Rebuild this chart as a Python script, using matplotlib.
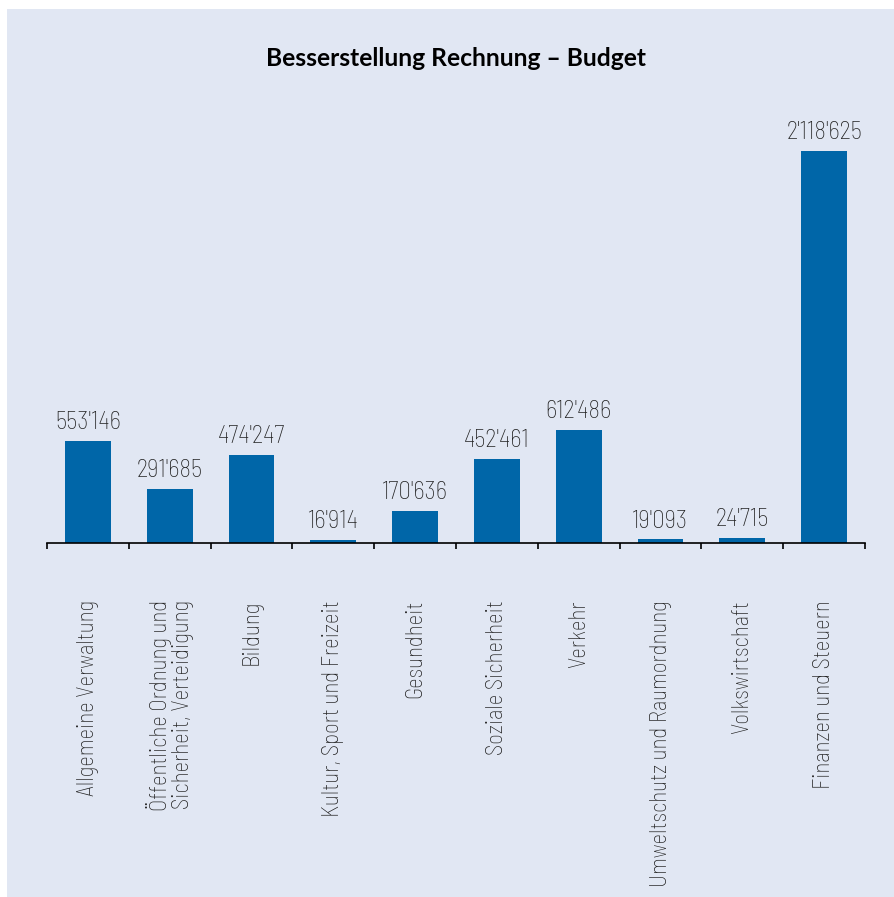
import matplotlib.pyplot as plt
from matplotlib import font_manager
from matplotlib.patches import Rectangle

# Data
categories = [
    "Allgemeine Verwaltung",
    "Öffentliche Ordnung und\nSicherheit, Verteidigung",
    "Bildung",
    "Kultur, Sport und Freizeit",
    "Gesundheit",
    "Soziale Sicherheit",
    "Verkehr",
    "Umweltschutz und Raumordnung",
    "Volkswirtschaft",
    "Finanzen und Steuern",
]
values = [553146, 291685, 474247, 16914, 170636, 452461, 612486, 19093, 24715, 2118625]
title = "Besserstellung Rechnung – Budget"

bg = "#e1e7f3"
bar_color = "#0066a8"
text_color = "#222222"

# narrow light font if available, else condensed DejaVu
installed = {f.name for f in font_manager.fontManager.ttflist}
if "Barlow Semi Condensed" in installed:
    fam = dict(family=["Barlow Semi Condensed", "DejaVu Sans"], fontweight="light")
    value_size, cat_size = 18, 16.5
elif "Barlow Condensed" in installed:
    fam = dict(family=["Barlow Condensed", "DejaVu Sans"], fontweight="light")
    value_size, cat_size = 20, 18
else:
    fam = dict(family=["DejaVu Sans"], fontstretch="condensed")
    value_size, cat_size = 13, 12


def fmt(v):
    return f"{v:,}".replace(",", "'")


#----------------------------------------------------------------------------------------------------------------------#
# Plotting
W, H = 894, 897
fig = plt.figure(figsize=(W / 100, H / 100), dpi=100, facecolor="white")
fig.patches.append(Rectangle((7 / W, 0), 1 - 7 / W, (H - 9) / H,
                             transform=fig.transFigure, facecolor=bg, edgecolor="none", zorder=-10))

ax = fig.add_axes([47 / W, (H - 543) / H, 818 / W, 443 / H])
ax.set_facecolor("none")

x = range(len(categories))
bars = ax.bar(x, values, width=0.56, color=bar_color, zorder=2)
ax.set_xlim(-0.5, len(categories) - 0.5)
ax.set_ylim(0, 2118625 * 443 / 392)

for b, v in zip(bars, values):
    ax.annotate(fmt(v), (b.get_x() + b.get_width() / 2, b.get_height()),
                xytext=(0, 5), textcoords="offset points", ha="center", va="bottom",
                color=text_color, fontsize=value_size, **fam)

# axis line and boundary ticks
for s in ["top", "right", "left"]:
    ax.spines[s].set_visible(False)
ax.spines["bottom"].set_linewidth(1.2)
ax.set_yticks([])
ax.set_xticks([i - 0.5 for i in range(len(categories) + 1)])
ax.set_xticklabels([])
ax.tick_params(axis="x", direction="out", length=4, width=1.2)

for i, c in enumerate(categories):
    ax.text(i, -57 / 443 * ax.get_ylim()[1], c, rotation=90, ha="center", va="top",
            multialignment="right", color=text_color, linespacing=1.0,
            fontsize=cat_size, **fam)

fig.text(456 / W, 1 - 58 / H, title, ha="center", va="center", fontsize=17.7,
         fontweight="bold", family=["Lato", "DejaVu Sans"], color="black")

fig.savefig("out.png", dpi=100, facecolor="white")
